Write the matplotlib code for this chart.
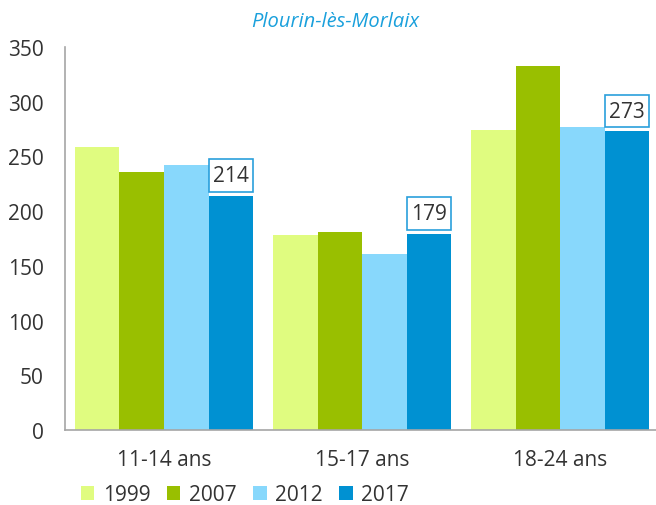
import matplotlib
matplotlib.use("Agg")
import matplotlib.pyplot as plt
from matplotlib.patches import Rectangle, Patch
import numpy as np

plt.rcParams['font.family'] = ['Open Sans', 'DejaVu Sans']

categories = ["11-14 ans", "15-17 ans", "18-24 ans"]
years = ["1999", "2007", "2012", "2017"]
v1999 = [259, 178, 274]
v2007 = [236, 181, 333]
v2012 = [242, 161, 277]
v2017 = [214, 179, 273]
series = [v1999, v2007, v2012, v2017]
colors = ["#e0fc80", "#99bf00", "#88d8fc", "#0091d2"]
title = "Plourin-lès-Morlaix"
yticks = [0, 50, 100, 150, 200, 250, 300, 350]

W, H = 656, 506
fig = plt.figure(figsize=(W / 100, H / 100), dpi=100)
ax = fig.add_axes([65 / W, (H - 431) / H, (656 - 65) / W, (431 - 48) / H])

x = np.arange(len(categories))
bw = 0.225
for i, (vals, c) in enumerate(zip(series, colors)):
    ax.bar(x - 0.45 + bw * i + bw / 2, vals, width=bw, color=c, label=years[i], zorder=2)

# labels on the 2017 series
for xi, v in zip(x, v2017):
    left = xi - 0.45 + bw * 3
    rect = Rectangle((left, v + 3.5), bw, 30, facecolor="white", edgecolor="#2a9fdc",
                     linewidth=1.2, zorder=3)
    ax.add_patch(rect)
    ax.text(left + bw / 2, v + 3.5 + 15, str(v), ha="center", va="center",
            fontsize=15, color="#333333", zorder=4)

ax.set_xlim(-0.5, 2.483)
ax.set_ylim(0, 350)
ax.set_yticks(yticks)
ax.set_xticks(x)
ax.set_xticklabels(categories)
ax.tick_params(axis="both", length=0, labelsize=15, labelcolor="#333333")
ax.tick_params(axis="y", pad=15.5)
ax.tick_params(axis="x", pad=14)
for s in ["top", "right"]:
    ax.spines[s].set_visible(False)
for s in ["left", "bottom"]:
    ax.spines[s].set_color("#a6a6a6")
    ax.spines[s].set_linewidth(1.2)

fig.text(335 / W, 1 - 22 / H, title, ha="center", va="center", fontsize=14.5,
         style="italic", color="#1aa0dc")

handles = [Patch(facecolor=c, edgecolor="none") for c in colors]
fig.legend(handles, years, loc="center left", bbox_to_anchor=(62 / W, 1 - 496 / H),
           ncol=4, frameon=False, fontsize=15, handlelength=0.65, handleheight=0.65,
           handletextpad=0.4, columnspacing=0.8, labelcolor="#333333")

fig.savefig("out.png", dpi=100)
